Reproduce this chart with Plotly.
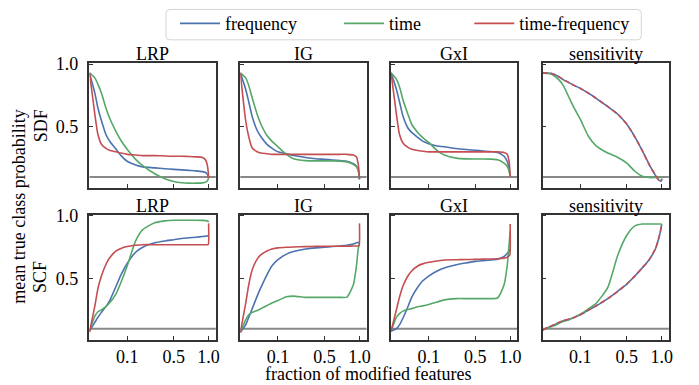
import numpy as np
import plotly.graph_objects as go

W, H = 699, 385
FONT = "Liberation Serif, Times New Roman, DejaVu Serif, serif"

# fraction of modified features (x values, shared by every panel)
fraction = [0, 0.002, 0.005, 0.01, 0.02, 0.03, 0.05, 0.07, 0.1, 0.15, 0.2, 0.3,
            0.4, 0.5, 0.6, 0.7, 0.8, 0.9, 0.95, 0.98, 0.995, 1.0]
x_ticks = [0.1, 0.5, 1.0]
x_ticktext = ["0.1", "0.5", "1.0"]
y_ticks = [0.5, 1.0]
y_ticktext = ["0.5", "1.0"]
chance_level = 0.1

methods = ["LRP", "IG", "GxI", "sensitivity"]
rows = ["SDF", "SCF"]
domains = ["frequency", "time", "time-frequency"]

# ---- SDF ----
sdf_lrp_freq = [0.93, 0.77, 0.65, 0.55, 0.43, 0.38, 0.32, 0.27, 0.225, 0.195, 0.18, 0.172, 0.165, 0.16, 0.156, 0.152, 0.148, 0.142, 0.135, 0.12, 0.10, 0.09]
sdf_lrp_time = [0.93, 0.89, 0.84, 0.77, 0.64, 0.56, 0.46, 0.39, 0.32, 0.24, 0.19, 0.125, 0.085, 0.063, 0.053, 0.05, 0.05, 0.052, 0.058, 0.07, 0.083, 0.09]
sdf_lrp_tf = [0.93, 0.60, 0.44, 0.36, 0.325, 0.31, 0.30, 0.29, 0.28, 0.275, 0.27, 0.27, 0.267, 0.265, 0.265, 0.263, 0.26, 0.255, 0.235, 0.19, 0.13, 0.09]

sdf_ig_freq = [0.93, 0.80, 0.70, 0.58, 0.47, 0.42, 0.36, 0.33, 0.30, 0.285, 0.27, 0.255, 0.245, 0.24, 0.235, 0.23, 0.225, 0.205, 0.185, 0.15, 0.11, 0.08]
sdf_ig_time = [0.93, 0.89, 0.83, 0.73, 0.60, 0.52, 0.43, 0.385, 0.34, 0.28, 0.245, 0.23, 0.228, 0.228, 0.228, 0.226, 0.22, 0.20, 0.18, 0.15, 0.11, 0.08]
sdf_ig_tf = [0.93, 0.55, 0.42, 0.33, 0.30, 0.29, 0.285, 0.28, 0.28, 0.28, 0.28, 0.28, 0.28, 0.28, 0.28, 0.28, 0.28, 0.275, 0.26, 0.20, 0.13, 0.085]

sdf_gxi_freq = [0.93, 0.80, 0.70, 0.585, 0.49, 0.455, 0.415, 0.385, 0.365, 0.347, 0.34, 0.326, 0.318, 0.312, 0.307, 0.302, 0.295, 0.265, 0.225, 0.17, 0.12, 0.10]
sdf_gxi_time = [0.93, 0.88, 0.82, 0.715, 0.60, 0.52, 0.455, 0.415, 0.375, 0.31, 0.275, 0.25, 0.244, 0.243, 0.243, 0.242, 0.237, 0.21, 0.185, 0.15, 0.12, 0.10]
sdf_gxi_tf = [0.93, 0.60, 0.44, 0.37, 0.335, 0.32, 0.31, 0.305, 0.30, 0.30, 0.30, 0.30, 0.30, 0.30, 0.30, 0.30, 0.30, 0.295, 0.28, 0.23, 0.15, 0.10]

sdf_sens_freq = [0.93, 0.928, 0.926, 0.917, 0.896, 0.876, 0.85, 0.83, 0.806, 0.767, 0.728, 0.66, 0.60, 0.52, 0.42, 0.31, 0.20, 0.11, 0.075, 0.065, 0.07, 0.085]
sdf_sens_time = [0.93, 0.925, 0.92, 0.905, 0.87, 0.83, 0.73, 0.65, 0.56, 0.42, 0.35, 0.29, 0.255, 0.21, 0.145, 0.105, 0.095, 0.095, 0.095, 0.095, 0.095, 0.095]
sdf_sens_tf = [0.93, 0.928, 0.925, 0.917, 0.897, 0.876, 0.851, 0.829, 0.807, 0.766, 0.729, 0.661, 0.598, 0.521, 0.418, 0.312, 0.198, 0.112, 0.074, 0.064, 0.07, 0.085]

# ---- SCF ----
scf_lrp_freq = [0.08, 0.15, 0.19, 0.23, 0.28, 0.33, 0.44, 0.53, 0.62, 0.71, 0.75, 0.785, 0.80, 0.81, 0.82, 0.825, 0.83, 0.835, 0.838, 0.84, 0.845, 0.845]
scf_lrp_time = [0.08, 0.20, 0.235, 0.25, 0.28, 0.31, 0.38, 0.47, 0.60, 0.80, 0.89, 0.945, 0.96, 0.965, 0.965, 0.965, 0.965, 0.964, 0.962, 0.96, 0.955, 0.95]
scf_lrp_tf = [0.07, 0.28, 0.42, 0.52, 0.62, 0.67, 0.72, 0.74, 0.755, 0.765, 0.77, 0.77, 0.77, 0.77, 0.77, 0.77, 0.77, 0.77, 0.77, 0.77, 0.772, 0.94]

scf_ig_freq = [0.07, 0.13, 0.19, 0.26, 0.36, 0.43, 0.53, 0.60, 0.65, 0.695, 0.715, 0.735, 0.745, 0.75, 0.755, 0.76, 0.765, 0.775, 0.785, 0.79, 0.785, 0.78]
scf_ig_time = [0.07, 0.17, 0.21, 0.23, 0.245, 0.26, 0.285, 0.305, 0.325, 0.355, 0.36, 0.35, 0.35, 0.35, 0.35, 0.35, 0.352, 0.45, 0.60, 0.74, 0.77, 0.78]
scf_ig_tf = [0.07, 0.30, 0.45, 0.57, 0.655, 0.69, 0.72, 0.735, 0.745, 0.75, 0.752, 0.755, 0.757, 0.757, 0.758, 0.758, 0.758, 0.76, 0.76, 0.762, 0.765, 0.94]

scf_gxi_freq = [0.08, 0.10, 0.13, 0.185, 0.275, 0.35, 0.43, 0.48, 0.52, 0.56, 0.585, 0.61, 0.625, 0.637, 0.643, 0.648, 0.655, 0.676, 0.70, 0.72, 0.73, 0.73]
scf_gxi_time = [0.08, 0.19, 0.22, 0.24, 0.254, 0.26, 0.275, 0.282, 0.293, 0.313, 0.33, 0.34, 0.34, 0.34, 0.34, 0.34, 0.345, 0.45, 0.60, 0.76, 0.85, 0.88]
scf_gxi_tf = [0.08, 0.25, 0.35, 0.44, 0.52, 0.56, 0.60, 0.617, 0.63, 0.64, 0.648, 0.65, 0.652, 0.653, 0.655, 0.656, 0.658, 0.663, 0.67, 0.68, 0.69, 0.935]

scf_sens_freq = [0.09, 0.11, 0.12, 0.132, 0.15, 0.163, 0.176, 0.19, 0.21, 0.25, 0.28, 0.34, 0.40, 0.456, 0.52, 0.585, 0.65, 0.74, 0.82, 0.88, 0.92, 0.935]
scf_sens_time = [0.09, 0.105, 0.115, 0.125, 0.145, 0.157, 0.172, 0.19, 0.215, 0.26, 0.30, 0.43, 0.69, 0.845, 0.92, 0.935, 0.935, 0.935, 0.935, 0.935, 0.935, 0.935]
scf_sens_tf = [0.09, 0.11, 0.121, 0.133, 0.151, 0.163, 0.177, 0.19, 0.211, 0.249, 0.281, 0.341, 0.399, 0.457, 0.519, 0.586, 0.649, 0.741, 0.819, 0.881, 0.92, 0.935]

series = {
    ("SDF", "LRP"): [sdf_lrp_freq, sdf_lrp_time, sdf_lrp_tf],
    ("SDF", "IG"): [sdf_ig_freq, sdf_ig_time, sdf_ig_tf],
    ("SDF", "GxI"): [sdf_gxi_freq, sdf_gxi_time, sdf_gxi_tf],
    ("SDF", "sensitivity"): [sdf_sens_freq, sdf_sens_time, sdf_sens_tf],
    ("SCF", "LRP"): [scf_lrp_freq, scf_lrp_time, scf_lrp_tf],
    ("SCF", "IG"): [scf_ig_freq, scf_ig_time, scf_ig_tf],
    ("SCF", "GxI"): [scf_gxi_freq, scf_gxi_time, scf_gxi_tf],
    ("SCF", "sensitivity"): [scf_sens_freq, scf_sens_time, scf_sens_tf],
}

colors = ["#4C72B0", "#55A868", "#C44E52"]
legend_ids = ["legend", "legend2", "legend3"]
AX = "#333333"

# panel geometry (pixels)
col_left = [90, 241.7, 393.3, 545.7]
panel_w = 127
row_top = [56, 211]
panel_h = 128

xs = np.sqrt(np.array(fraction))

fig = go.Figure()
layout = dict(width=W, height=H, margin=dict(l=0, r=0, t=0, b=0),
              paper_bgcolor="white", plot_bgcolor="white",
              font=dict(family=FONT, size=18, color="black"))
shapes = []
annotations = []

for r, row in enumerate(rows):
    for c, m in enumerate(methods):
        k = r * 4 + c + 1
        sx = "" if k == 1 else str(k)
        xa, ya = "x" + sx, "y" + sx
        vals = series[(row, m)]
        for d, dom in enumerate(domains):
            dash = "5px,3px" if (m == "sensitivity" and d == 2) else "solid"
            fig.add_trace(go.Scatter(
                x=xs, y=vals[d], mode="lines", name=dom,
                line=dict(color=colors[d], width=1.6, shape="spline", smoothing=0.6, dash=dash),
                showlegend=(k == 1), legend=legend_ids[d],
                xaxis=xa, yaxis=ya, hoverinfo="skip"))
        x0 = col_left[c] / W
        x1 = (col_left[c] + panel_w) / W
        y1 = 1 - row_top[r] / H
        y0 = 1 - (row_top[r] + panel_h) / H
        layout["xaxis" + sx] = dict(
            domain=[x0, x1], anchor=ya, range=[0, 1.06],
            tickvals=list(np.sqrt(x_ticks)), ticktext=x_ticktext,
            showticklabels=(r == 1), ticks="inside", ticklen=4, tickwidth=1.2,
            tickcolor=AX, showline=True, linecolor=AX, linewidth=1.5, mirror=True,
            showgrid=False, zeroline=False, ticklabelstandoff=0,
            tickfont=dict(family=FONT, size=18, color="black"))
        layout["yaxis" + sx] = dict(
            domain=[y0, y1], anchor=xa, range=[0.01, 1.01],
            tickvals=y_ticks, ticktext=y_ticktext,
            showticklabels=(c == 0), ticks="inside", ticklen=4, tickwidth=1.2,
            tickcolor=AX, showline=True, linecolor=AX, linewidth=1.5, mirror=True,
            showgrid=False, zeroline=False, ticklabelstandoff=6,
            tickfont=dict(family=FONT, size=18, color="black"))
        shapes.append(dict(type="line", xref=xa + " domain", yref=ya, x0=0, x1=1,
                           y0=chance_level, y1=chance_level, layer="below",
                           line=dict(color="#888888", width=2)))
        annotations.append(dict(text=m, x=(x0 + x1) / 2, y=y1, xref="paper", yref="paper",
                                xanchor="center", yanchor="bottom", yshift=-3, showarrow=False,
                                font=dict(family=FONT, size=18, color="black")))

# row labels and axis labels
for r, row in enumerate(rows):
    annotations.append(dict(text=row, x=41 / W, y=1 - (row_top[r] + panel_h / 2) / H,
                            xref="paper", yref="paper", textangle=-90, showarrow=False,
                            xanchor="center", yanchor="middle",
                            font=dict(family=FONT, size=18, color="black")))
annotations.append(dict(text="mean true class probability", x=19 / W, y=1 - 203 / H,
                        xref="paper", yref="paper", textangle=-90, showarrow=False,
                        xanchor="center", yanchor="middle",
                        font=dict(family=FONT, size=18, color="black")))
annotations.append(dict(text="fraction of modified features", x=370 / W, y=1 - 374 / H,
                        xref="paper", yref="paper", showarrow=False,
                        xanchor="center", yanchor="middle",
                        font=dict(family=FONT, size=18, color="black")))

# legend frame (rounded rectangle)
lx0, lx1, ly0, ly1, rad = 167, 645, 1.5, 32.5, 4
def P(px, py):
    return f"{px / W:.5f},{1 - py / H:.5f}"
path = (f"M{P(lx0 + rad, ly0)} L{P(lx1 - rad, ly0)} Q{P(lx1, ly0)} {P(lx1, ly0 + rad)} "
        f"L{P(lx1, ly1 - rad)} Q{P(lx1, ly1)} {P(lx1 - rad, ly1)} "
        f"L{P(lx0 + rad, ly1)} Q{P(lx0, ly1)} {P(lx0, ly1 - rad)} "
        f"L{P(lx0, ly0 + rad)} Q{P(lx0, ly0)} {P(lx0 + rad, ly0)} Z")
shapes.append(dict(type="path", xref="paper", yref="paper", path=path,
                   line=dict(color="#d5d5d5", width=1), layer="above"))

legend_x = [176, 341, 472]
for i, lid in enumerate(legend_ids):
    layout[lid] = dict(x=legend_x[i] / W, y=1 - 16 / H, xanchor="left", yanchor="middle",
                       orientation="h", bgcolor="rgba(0,0,0,0)", borderwidth=0,
                       itemwidth=40, font=dict(family=FONT, size=18, color="black"))

layout["shapes"] = shapes
layout["annotations"] = annotations
fig.update_layout(**layout)
fig.write_html("out.html", config={"displayModeBar": False},
               post_script="document.body.style.margin='0';document.body.style.overflow='hidden';")
